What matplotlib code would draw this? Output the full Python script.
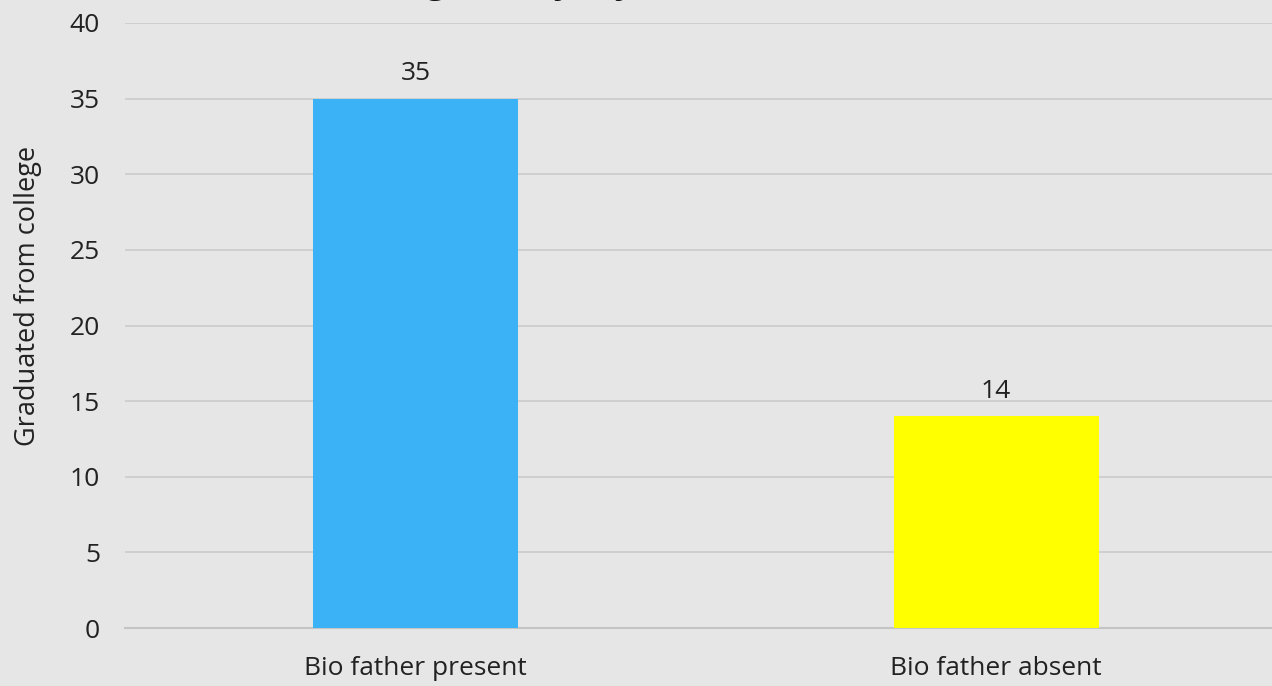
import matplotlib
matplotlib.use("Agg")
import matplotlib.pyplot as plt

# chart data
categories = ["Bio father present", "Bio father absent"]
values = [35, 14]
bar_colors = ["#3BB1F6", "#FFFF00"]
title_text = "College Entry, by Father Presence"

plt.rcParams['font.family'] = ['Open Sans', 'DejaVu Sans']

fig = plt.figure(figsize=(12.72, 6.86), dpi=100, facecolor="#E6E6E6")
ax = fig.add_axes([125 / 1272, 1 - 628 / 686, 1 - 125 / 1272, (628 - 23) / 686])
ax.set_facecolor("#E6E6E6")

x = range(len(categories))
bars = ax.bar(x, values, width=0.353, color=bar_colors, zorder=3)

# value labels above the bars
for b, v in zip(bars, values):
    ax.annotate(str(v), (b.get_x() + b.get_width() / 2, v),
                xytext=(0, 9), textcoords="offset points",
                ha="center", va="bottom", fontsize=19, color="#222222")

ax.set_ylim(0, 40)
ax.set_xlim(-0.5, 1.475)
ax.set_yticks(range(0, 41, 5))
ax.set_xticks(list(x))
ax.set_xticklabels(categories)
ax.tick_params(axis="both", length=0, labelsize=19, colors="#222222")
ax.tick_params(axis="y", pad=18)
ax.tick_params(axis="x", pad=20)
ax.set_ylabel("Graduated from college", fontsize=19.5, color="#222222")
ax.yaxis.set_label_coords(-0.072, 0.549)

ax.grid(axis="y", color="#CBCBCB", linewidth=1.2, zorder=0)
ax.set_axisbelow(True)
for s in ["top", "right", "left"]:
    ax.spines[s].set_visible(False)
ax.spines["bottom"].set_color("#C4C4C4")
ax.spines["bottom"].set_linewidth(1.5)

# title is cut off at the top of the picture, only the descenders show
fig.text(0.5, 1 - 1 / 686, title_text, ha="center", va="bottom",
         fontsize=26, fontweight="bold", color="#111111")

fig.savefig("out.png", dpi=100, facecolor=fig.get_facecolor())
